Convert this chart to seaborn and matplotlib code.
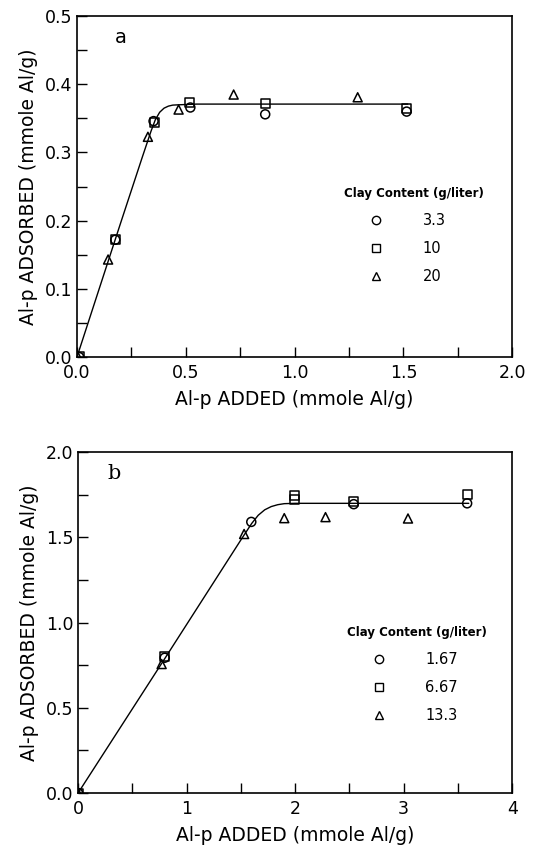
import numpy as np
import pandas as pd
import matplotlib
matplotlib.use("Agg")
import matplotlib.pyplot as plt
import seaborn as sns
from matplotlib.ticker import MultipleLocator, FormatStrFormatter
from matplotlib.lines import Line2D

sns.set_theme(style="ticks")
plt.rcParams['font.family'] = ['DejaVu Sans']
plt.rcParams['text.color'] = 'black'
plt.rcParams['axes.labelcolor'] = 'black'

# ---------------- Panel a data ----------------
a_labels = ["3.3", "10", "20"]
a_x_33 = [0.01, 0.176, 0.352, 0.521, 0.865, 1.515]
a_y_33 = [0.0, 0.172, 0.346, 0.366, 0.356, 0.360]
a_x_10 = [0.01, 0.176, 0.355, 0.518, 0.865, 1.515]
a_y_10 = [0.0, 0.172, 0.344, 0.373, 0.372, 0.364]
a_x_20 = [0.005, 0.143, 0.326, 0.467, 0.72, 1.29]
a_y_20 = [0.0, 0.143, 0.323, 0.363, 0.385, 0.381]
a_fit_x = [0.0, 0.1, 0.2, 0.3, 0.34, 0.36, 0.38, 0.40, 0.42, 0.44, 0.47, 0.55, 1.0, 1.52]
a_fit_y = [0.0, 0.098, 0.196, 0.293, 0.331, 0.348, 0.359, 0.365, 0.368, 0.3695, 0.370, 0.371, 0.371, 0.371]

# ---------------- Panel b data ----------------
b_labels = ["1.67", "6.67", "13.3"]
b_x_167 = [0.0, 0.798, 1.596, 2.54, 3.585]
b_y_167 = [0.0, 0.794, 1.591, 1.695, 1.700]
b_x_667 = [0.0, 0.80, 1.99, 1.99, 2.54, 3.585]
b_y_667 = [0.0, 0.80, 1.745, 1.72, 1.71, 1.75]
b_x_133 = [0.0, 0.77, 1.53, 1.90, 2.28, 3.04]
b_y_133 = [0.0, 0.757, 1.52, 1.613, 1.619, 1.611]
b_fit_x = [0.0, 0.8, 1.5, 1.6, 1.66, 1.72, 1.78, 1.84, 1.9, 2.0, 2.5, 3.6]
b_fit_y = [0.0, 0.79, 1.485, 1.582, 1.630, 1.662, 1.681, 1.692, 1.698, 1.70, 1.70, 1.70]

markers = ["o", "s", "^"]

fig = plt.figure(figsize=(5.44, 8.5), dpi=100)
ax1 = fig.add_axes([0.1415, 0.58, 0.800, 0.401])
ax2 = fig.add_axes([0.1435, 0.067, 0.798, 0.401])

def draw(ax, series, labels, fit_x, fit_y, leg_anchor):
    fit = pd.DataFrame({"x": fit_x, "y": fit_y})
    sns.lineplot(data=fit, x="x", y="y", ax=ax, color="black", lw=1.0,
                 estimator=None, sort=True)
    for (xs, ys), m in zip(series, markers):
        df = pd.DataFrame({"x": xs, "y": ys})
        sns.scatterplot(data=df, x="x", y="y", ax=ax, marker=m, s=42,
                        facecolor="none", edgecolor="black", linewidth=1.1,
                        zorder=3)
    for s in ax.spines.values():
        s.set_linewidth(1.2)
        s.set_color("black")
    ax.tick_params(which="both", direction="in", labelsize=12.5, colors="black",
                   width=1.0, length=7)
    ax.tick_params(axis="x", pad=5)
    ax.set_ylabel("Al-p ADSORBED (mmole Al/g)", fontsize=13.5, labelpad=5)
    ax.set_xlabel("Al-p ADDED (mmole Al/g)", fontsize=13.5, labelpad=6)
    handles = [Line2D([], [], marker=m, ls="none", mfc="none", mec="black",
                      mew=1.0, ms=6) for m in markers]
    leg = ax.legend(handles, labels, title="Clay Content (g/liter)",
                    loc="upper left", bbox_to_anchor=leg_anchor,
                    frameon=False, handlelength=4.4, handletextpad=1.0,
                    labelspacing=0.9, fontsize=10.5, title_fontsize=8.5,
                    borderpad=0.2)
    leg.get_title().set_fontweight("bold")
    leg._legend_box.align = "left"

draw(ax1, [(a_x_33, a_y_33), (a_x_10, a_y_10), (a_x_20, a_y_20)], a_labels,
     a_fit_x, a_fit_y, (0.59, 0.53))
ax1.set_xlim(0, 2.0)
ax1.set_ylim(0, 0.5)
ax1.xaxis.set_major_locator(MultipleLocator(0.5))
ax1.xaxis.set_minor_locator(MultipleLocator(0.25))
ax1.yaxis.set_major_locator(MultipleLocator(0.1))
ax1.yaxis.set_minor_locator(MultipleLocator(0.05))
ax1.xaxis.set_major_formatter(FormatStrFormatter("%.1f"))
ax1.yaxis.set_major_formatter(FormatStrFormatter("%.1f"))
ax1.text(0.175, 0.46, "a", fontsize=14, family="DejaVu Sans")

draw(ax2, [(b_x_167, b_y_167), (b_x_667, b_y_667), (b_x_133, b_y_133)], b_labels,
     b_fit_x, b_fit_y, (0.595, 0.52))
ax2.set_xlim(0, 4)
ax2.set_ylim(0, 2.0)
ax2.xaxis.set_major_locator(MultipleLocator(1))
ax2.xaxis.set_minor_locator(MultipleLocator(0.5))
ax2.yaxis.set_major_locator(MultipleLocator(0.5))
ax2.yaxis.set_minor_locator(MultipleLocator(0.25))
ax2.yaxis.set_major_formatter(FormatStrFormatter("%.1f"))
ax2.text(0.27, 1.84, "b", fontsize=15, family="DejaVu Serif")

fig.savefig("out.png", dpi=100)
